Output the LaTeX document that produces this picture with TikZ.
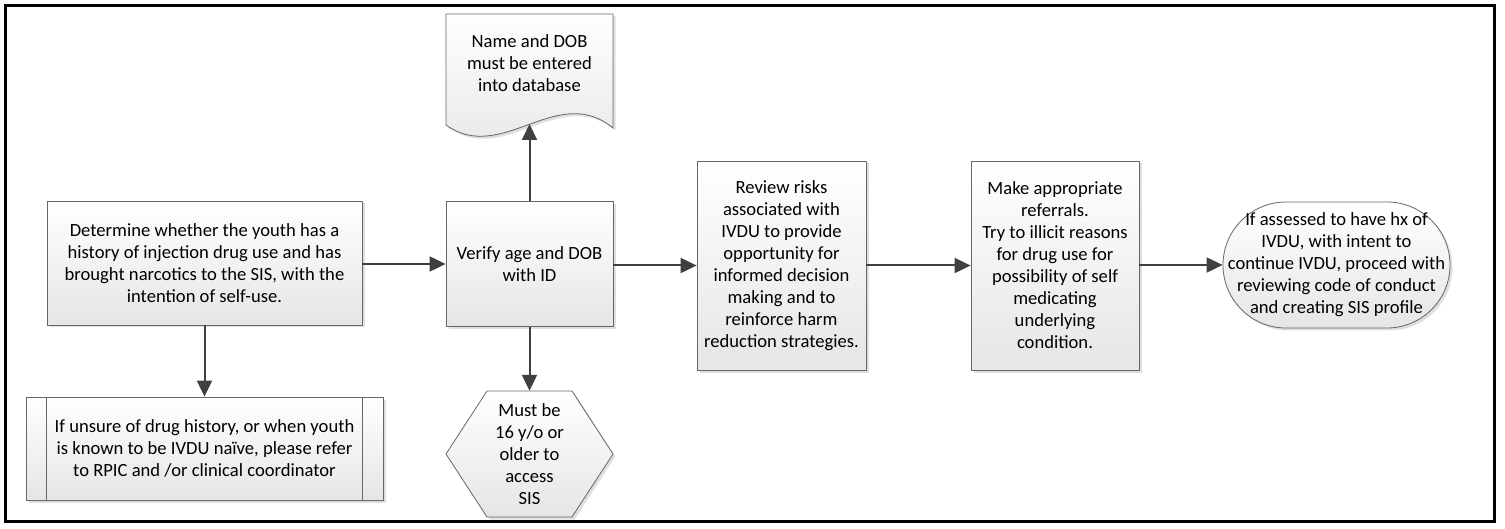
\documentclass[tikz,border=0pt]{standalone}
\usepackage{fontspec}
\setmainfont{Carlito}
\usetikzlibrary{arrows.meta,shadows}
\tikzset{
  shp/.style={draw=black!60, line width=0.8pt, top color=white, bottom color=black!10,
    drop shadow={shadow xshift=2.5pt, shadow yshift=-2.5pt, fill=black!25, opacity=0.5}},
  txt/.style={font=\fontsize{18.6}{22}\selectfont, align=center, inner sep=0pt, text=black},
  arr/.style={draw=black!75, line width=2pt, -{Triangle[length=16pt,width=15pt]}},
}
\begin{document}
\begin{tikzpicture}[x=1pt,y=-1pt]
\useasboundingbox (0,0) rectangle (1505,529);
\draw[line width=3pt] (5.5,5.5) rectangle (1494.5,521);

% Determine box
\node[shp, txt, minimum width=315pt, minimum height=124pt] (A) at (204.5,263)
  {Determine whether the youth has a\\history of injection drug use and has\\brought narcotics to the SIS, with the\\intention of self-use.};

% Predefined process
\node[shp, txt, minimum width=357pt, minimum height=103pt] (B) at (204.5,448.5)
  {If unsure of drug history, or when youth\\is known to be IVDU na\"ive, please refer\\to RPIC and /or clinical coordinator};
\draw[draw=black!60, line width=0.8pt] ([xshift=21pt]B.north west) -- ([xshift=21pt]B.south west);
\draw[draw=black!60, line width=0.8pt] ([xshift=-21pt]B.north east) -- ([xshift=-21pt]B.south east);

% Verify box
\node[shp, txt, minimum width=167pt, minimum height=125pt] (C) at (529.5,264)
  {Verify age and DOB\\with ID};

% Document shape
\path[shp] (446,14) -- (613,14) -- (613,128) .. controls (557,82) and (502,165) .. (446,125) -- cycle;
\node[txt] (doc) at (529.5,63) {Name and DOB\\must be entered\\into database};
\coordinate (docb) at (529.5,124);

% Hexagon
\path[shp] (446,454) -- (487,391) -- (572,391) -- (613,454) -- (572,517) -- (487,517) -- cycle;
\node[txt, minimum width=167pt, minimum height=126pt] (hex) at (529.5,454)
  {Must be\\16 y/o or\\older to\\access\\SIS};

% Review box
\node[shp, txt, minimum width=169pt, minimum height=209pt] (D) at (781.5,265.5)
  {Review risks\\associated with\\IVDU to provide\\opportunity for\\informed decision\\making and to\\reinforce harm\\reduction strategies.};

% Referrals box
\node[shp, txt, minimum width=168pt, minimum height=209pt] (E) at (1055,265.5)
  {Make appropriate\\referrals.\\Try to illicit reasons\\for drug use for\\possibility of self\\medicating\\underlying\\condition.};

% Terminator
\node[shp, txt, rounded corners=63pt, minimum width=227pt, minimum height=126pt] (F) at (1336.5,265)
  {If assessed to have hx of\\IVDU, with intent to\\continue IVDU, proceed with\\reviewing code of conduct\\and creating SIS profile};

% Connectors
\draw[arr] (A.east |- C.west) -- (C.west);
\draw[arr] (C.east |- D.west) -- (D.west);
\draw[arr] (D.east) -- (E.west);
\draw[arr] (E.east |- F.west) -- (F.west);
\draw[arr] (A.south) -- (B.north);
\draw[arr] (C.north) -- (docb);
\draw[arr] (C.south) -- (hex.north);
\end{tikzpicture}
\end{document}
